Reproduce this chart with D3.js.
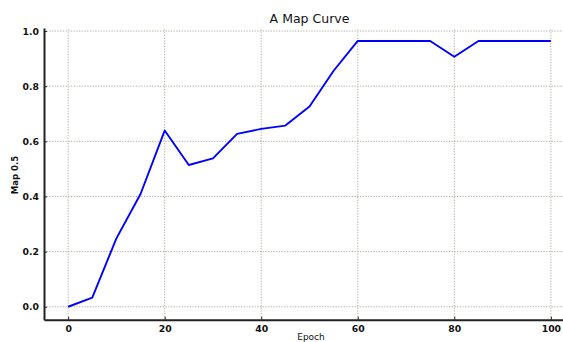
<!DOCTYPE html>
<html><head><meta charset="utf-8">
<script src="https://cdn.jsdelivr.net/npm/d3@7"></script>
<style>body{margin:0;background:#fff}svg{display:block}</style>
</head><body>
<script>
const epochs = [0,5,10,15,20,25,30,35,40,45,50,55,60,65,70,75,80,85,90,95,100];
const mapValues = [0.0,0.033,0.248,0.409,0.639,0.514,0.538,0.627,0.645,0.657,0.726,0.856,0.964,0.964,0.964,0.964,0.907,0.964,0.964,0.964,0.964];
const xTicks = [0,20,40,60,80,100];
const yTicks = [0.0,0.2,0.4,0.6,0.8,1.0];
const title = "A Map Curve";
const xLabel = "Epoch";
const yLabel = "Map 0.5";

const W = 563, H = 342;
const svg = d3.select("body").append("svg").attr("width", W).attr("height", H);
const x = d3.scaleLinear().domain([-5,105]).range([44,575]);
const y = d3.scaleLinear().domain([-0.047,1.011]).range([319.7,28]);

const grid = svg.append("g");
grid.selectAll("line.v").data(xTicks).join("line")
  .attr("x1", d=>x(d)).attr("x2", d=>x(d)).attr("y1", y.range()[0]).attr("y2", y.range()[1])
  .attr("stroke","#aeae9e").attr("stroke-width",1).attr("stroke-dasharray","1.2,1.5");
grid.selectAll("line.h").data(yTicks).join("line")
  .attr("y1", d=>y(d)).attr("y2", d=>y(d)).attr("x1", x.range()[0]).attr("x2", x.range()[1])
  .attr("stroke","#aeae9e").attr("stroke-width",1).attr("stroke-dasharray","1.2,1.5");

const line = d3.line().x((d,i)=>x(epochs[i])).y(d=>y(d));
svg.append("path").datum(mapValues).attr("d", line)
  .attr("fill","none").attr("stroke","#0000ff").attr("stroke-width",1.9).attr("stroke-linejoin","round");

const xAxis = svg.append("g").attr("transform",`translate(0,${y.range()[0]})`)
  .call(d3.axisBottom(x).tickValues(xTicks).tickFormat(d3.format("d")).tickSizeInner(-3).tickSizeOuter(0).tickPadding(6));
const yAxis = svg.append("g").attr("transform",`translate(${x.range()[0]},0)`)
  .call(d3.axisLeft(y).tickValues(yTicks).tickFormat(d3.format(".1f")).tickSizeInner(-3).tickSizeOuter(0).tickPadding(5));
[xAxis,yAxis].forEach(a=>{
  a.select(".domain").attr("stroke","#222").attr("stroke-width",2);
  a.selectAll(".tick line").attr("stroke","#222").attr("stroke-width",1);
  a.selectAll("text").attr("font-family","DejaVu Sans").attr("font-weight","bold").attr("font-size","9.3px").attr("fill","#111");
});

svg.append("text").attr("x",309.5).attr("y",23).attr("text-anchor","middle")
  .attr("font-family","DejaVu Sans").attr("font-size","12.5px").attr("fill","#111").text(title);
svg.append("text").attr("x",311).attr("y",339.5).attr("text-anchor","middle")
  .attr("font-family","DejaVu Sans").attr("font-size","9px").attr("fill","#111").text(xLabel);
svg.append("text").attr("transform","translate(18,175) rotate(-90)").attr("text-anchor","middle")
  .attr("font-family","DejaVu Sans").attr("font-weight","bold").attr("font-size","8.5px").attr("fill","#111").text(yLabel);
</script>
</body></html>
